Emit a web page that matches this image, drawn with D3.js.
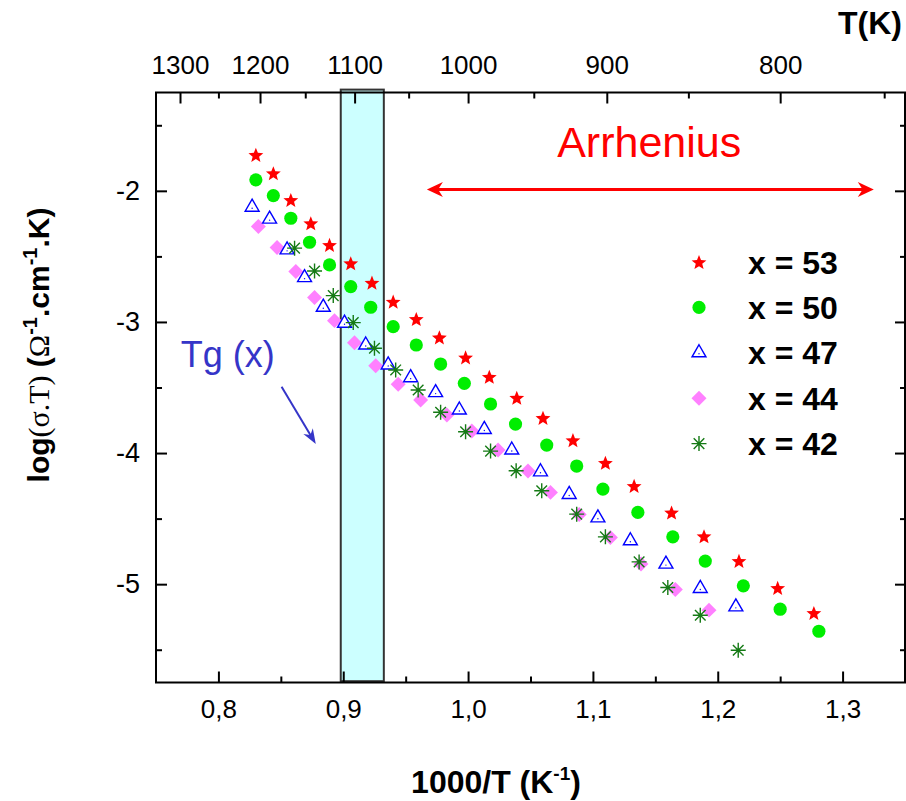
<!DOCTYPE html>
<html><head><meta charset="utf-8">
<script src="https://cdn.jsdelivr.net/npm/d3@7"></script>
<style>body{margin:0;background:#fff} svg{display:block}</style>
</head><body><svg id="c" width="906" height="801"></svg>
<script>
// ---------- data ----------
const xTicksMajor = [0.8, 0.9, 1.0, 1.1, 1.2, 1.3];
const xTicksMinor = [0.85, 0.95, 1.05, 1.15, 1.25];
const yTicksMajor = [-2, -3, -4, -5];
const yTicksMinor = [-1.5, -2.5, -3.5, -4.5, -5.5];
const tTicksMajor = [1300, 1200, 1100, 1000, 900, 800];
const tTicksMinor = [1250, 1150, 1050, 950, 850, 750];

const seriesNames = ["x = 53", "x = 50", "x = 47", "x = 44", "x = 42"];

const x53 = [0.830,0.844,0.858,0.874,0.889,0.906,0.923,0.940,0.9585,0.977,0.998,1.017,1.039,1.060,1.084,1.110,1.133,1.163,1.189,1.217,1.248,1.277];
const y53 = [-1.725,-1.865,-2.069,-2.247,-2.412,-2.552,-2.700,-2.845,-2.977,-3.117,-3.270,-3.418,-3.578,-3.731,-3.901,-4.074,-4.250,-4.453,-4.634,-4.822,-5.028,-5.219];

const x50 = [0.830,0.844,0.858,0.873,0.889,0.906,0.922,0.940,0.9585,0.978,0.997,1.018,1.038,1.063,1.087,1.108,1.136,1.164,1.190,1.2205,1.250,1.281];
const y50 = [-1.916,-2.036,-2.209,-2.392,-2.565,-2.730,-2.888,-3.036,-3.176,-3.321,-3.468,-3.626,-3.779,-3.939,-4.099,-4.275,-4.453,-4.639,-4.824,-5.013,-5.191,-5.359];

const x47 = [0.827,0.841,0.855,0.869,0.884,0.901,0.918,0.936,0.954,0.974,0.993,1.013,1.035,1.058,1.081,1.104,1.130,1.1585,1.186,1.2145];
const y47 = [-2.125,-2.216,-2.450,-2.662,-2.888,-3.010,-3.176,-3.328,-3.425,-3.539,-3.672,-3.820,-3.977,-4.143,-4.316,-4.494,-4.669,-4.847,-5.033,-5.173];

const x44 = [0.832,0.847,0.862,0.877,0.893,0.909,0.926,0.944,0.962,0.983,1.003,1.024,1.048,1.066,1.089,1.114,1.1385,1.166,1.193];
const y44 = [-2.272,-2.433,-2.616,-2.814,-2.990,-3.158,-3.334,-3.475,-3.595,-3.710,-3.832,-3.977,-4.137,-4.300,-4.468,-4.644,-4.847,-5.041,-5.198];

const x42 = [0.861,0.877,0.892,0.908,0.925,0.942,0.960,0.978,0.998,1.018,1.0385,1.059,1.087,1.110,1.137,1.160,1.186,1.2164];
const y42 = [-2.437,-2.611,-2.799,-3.005,-3.201,-3.366,-3.519,-3.689,-3.837,-3.985,-4.135,-4.288,-4.466,-4.639,-4.830,-5.025,-5.237,-5.504];

// annotations (data coordinates)
const tgBandX = [0.898, 0.9325];
const tgBandY = [-1.228, -5.74];
const arrheniusX = [0.967, 1.325];
const arrheniusY = -1.99;
const arrheniusText = [1.2188, -1.74];
const tgText = [0.7698, -3.341];
const tgArrow = [[0.8506, -3.494], [0.878, -3.931]];

// ---------- setup ----------
const FONT = "'Liberation Sans', Arial, Helvetica, sans-serif";
const SERIF = "'Liberation Serif', 'Times New Roman', 'DejaVu Serif', serif";
const svg = d3.select("#c");
const x = d3.scaleLinear().domain([0.75, 1.35]).range([156, 905]);
const y = d3.scaleLinear().domain([-5.75, -1.25]).range([682.5, 92.5]);
const [L, R] = x.range(), [B, T] = y.range();

const series = [
  {name: seriesNames[0], xs: x53, ys: y53, type: "star"},
  {name: seriesNames[1], xs: x50, ys: y50, type: "circle"},
  {name: seriesNames[2], xs: x47, ys: y47, type: "triangle"},
  {name: seriesNames[3], xs: x44, ys: y44, type: "diamond"},
  {name: seriesNames[4], xs: x42, ys: y42, type: "asterisk"}
];

// Tg band
svg.append("rect")
  .attr("x", x(tgBandX[0])).attr("y", y(tgBandY[0]))
  .attr("width", x(tgBandX[1]) - x(tgBandX[0]))
  .attr("height", y(tgBandY[1]) - y(tgBandY[0]))
  .attr("fill", "#ccffff").attr("stroke", "#333").attr("stroke-width", 2);

// ---------- axes ----------
function styleAxis(g, fs) {
  g.select(".domain").remove();
  g.selectAll(".tick line").attr("stroke", "#000").attr("stroke-width", 2);
  g.selectAll(".tick text").attr("font-family", FONT).attr("font-size", fs).attr("fill", "#000");
}
const fmtX = d => d3.format(".1f")(d).replace(".", ",");

svg.append("g").attr("transform", `translate(0,${B})`)
  .call(d3.axisBottom(x).tickValues(xTicksMajor).tickSize(-11).tickPadding(17).tickFormat(fmtX))
  .call(g => styleAxis(g, 26));
svg.append("g").attr("transform", `translate(0,${B})`)
  .call(d3.axisBottom(x).tickValues(xTicksMinor).tickSize(-6).tickFormat(""))
  .call(g => styleAxis(g, 26));

svg.append("g").attr("transform", `translate(0,${T})`)
  .call(d3.axisTop(x).tickValues(tTicksMajor.map(t => 1000 / t)).tickSize(-11).tickPadding(19)
    .tickFormat(v => String(Math.round(1000 / v))))
  .call(g => styleAxis(g, 26));
svg.append("g").attr("transform", `translate(0,${T})`)
  .call(d3.axisTop(x).tickValues(tTicksMinor.map(t => 1000 / t)).tickSize(-6).tickFormat(""))
  .call(g => styleAxis(g, 26));

svg.append("g").attr("transform", `translate(${L},0)`)
  .call(d3.axisLeft(y).tickValues(yTicksMajor).tickSize(-11).tickPadding(16).tickFormat(d => String(d)))
  .call(g => styleAxis(g, 27));
svg.append("g").attr("transform", `translate(${L},0)`)
  .call(d3.axisLeft(y).tickValues(yTicksMinor).tickSize(-6).tickFormat(""))
  .call(g => styleAxis(g, 27));

svg.append("g").attr("transform", `translate(${R},0)`)
  .call(d3.axisRight(y).tickValues(yTicksMajor).tickSize(-10).tickFormat(""))
  .call(g => styleAxis(g, 27));
svg.append("g").attr("transform", `translate(${R},0)`)
  .call(d3.axisRight(y).tickValues(yTicksMinor).tickSize(-5).tickFormat(""))
  .call(g => styleAxis(g, 27));

// frame
svg.append("rect").attr("x", L).attr("y", T).attr("width", R - L).attr("height", B - T)
  .attr("fill", "none").attr("stroke", "#000").attr("stroke-width", 2);

// ---------- markers ----------
function asteriskPath(r) {
  const d = r * Math.SQRT1_2;
  return `M${-r},0L${r},0M0,${-r}L0,${r}M${-d},${-d}L${d},${d}M${-d},${d}L${d},${-d}`;
}
function starPath(ro, ri) {
  const pts = [];
  for (let i = 0; i < 10; i++) {
    const r = i % 2 ? ri : ro;
    const a = -Math.PI / 2 + i * Math.PI / 5;
    pts.push([r * Math.cos(a), r * Math.sin(a)]);
  }
  return "M" + pts.map(p => p[0].toFixed(2) + "," + p[1].toFixed(2)).join("L") + "Z";
}
function drawMarker(g, type, cx, cy) {
  if (type === "star") {
    g.append("path").attr("d", starPath(7.8, 3.4))
      .attr("transform", `translate(${cx},${cy + 0.8})`).attr("fill", "#ff0000");
  } else if (type === "circle") {
    g.append("circle").attr("cx", cx).attr("cy", cy).attr("r", 6.6).attr("fill", "#00ee00");
  } else if (type === "triangle") {
    g.append("path").attr("d", d3.symbol().type(d3.symbolTriangle).size(84)())
      .attr("transform", `translate(${cx},${cy})`).attr("fill", "#fff")
      .attr("stroke", "#0000ff").attr("stroke-width", 1.4);
    g.append("circle").attr("cx", cx).attr("cy", cy + 1).attr("r", 0.7).attr("fill", "#0000ff");
  } else if (type === "diamond") {
    g.append("path").attr("d", d3.symbol().type(d3.symbolSquare).size(112)())
      .attr("transform", `translate(${cx},${cy}) rotate(45)`).attr("fill", "#ff80ff");
  } else if (type === "asterisk") {
    g.append("path").attr("d", asteriskPath(7.5))
      .attr("transform", `translate(${cx},${cy})`).attr("fill", "none")
      .attr("stroke", "#157a15").attr("stroke-width", 1.4);
  }
}

const drawOrder = [3, 2, 4, 1, 0];
drawOrder.forEach(i => {
  const s = series[i];
  const g = svg.append("g").attr("class", "series-" + i);
  s.xs.forEach((xv, k) => drawMarker(g, s.type, x(xv), y(s.ys[k])));
});

// ---------- legend ----------
const leg = svg.append("g");
series.forEach((s, i) => {
  const cy = 262 + i * 45.4;
  drawMarker(leg, s.type, 699, cy);
  leg.append("text").attr("x", 748).attr("y", cy + 11.5)
    .attr("font-family", FONT).attr("font-weight", "bold").attr("font-size", 32)
    .text(s.name);
});

// ---------- arrows ----------
function arrow(x1, y1, x2, y2, color, w, hl, hw, both) {
  const g = svg.append("g");
  const ang = Math.atan2(y2 - y1, x2 - x1);
  const head = (tx, ty, a) => {
    const c = Math.cos(a), s = Math.sin(a);
    const P = (u, v) => [tx + u * c - v * s, ty + u * s + v * c];
    const pts = [P(0, 0), P(-hl, -hw), P(-hl * 0.7, 0), P(-hl, hw)];
    g.append("path").attr("d", "M" + pts.map(p => p.join(",")).join("L") + "Z").attr("fill", color);
  };
  const inset = hl * 0.6;
  const sx = both ? x1 + Math.cos(ang) * inset : x1, sy = both ? y1 + Math.sin(ang) * inset : y1;
  g.append("line").attr("x1", sx).attr("y1", sy)
    .attr("x2", x2 - Math.cos(ang) * inset).attr("y2", y2 - Math.sin(ang) * inset)
    .attr("stroke", color).attr("stroke-width", w);
  head(x2, y2, ang);
  if (both) head(x1, y1, ang + Math.PI);
}
arrow(x(arrheniusX[0]), y(arrheniusY), x(arrheniusX[1]), y(arrheniusY), "#ff0000", 3, 16, 7.5, true);
arrow(x(tgArrow[0][0]), y(tgArrow[0][1]), x(tgArrow[1][0]), y(tgArrow[1][1]), "#3535c8", 2, 15, 5.5, false);

svg.append("text").attr("x", x(arrheniusText[0])).attr("y", y(arrheniusText[1]))
  .attr("text-anchor", "end").attr("font-family", FONT).attr("font-size", 43).attr("fill", "#ff0000")
  .text("Arrhenius");
svg.append("text").attr("x", x(tgText[0])).attr("y", y(tgText[1]))
  .attr("font-family", FONT).attr("font-size", 36).attr("fill", "#3535c8")
  .text("Tg (x)");

// ---------- titles ----------
const xt = svg.append("text").attr("x", 496).attr("y", 793).attr("text-anchor", "middle")
  .attr("font-family", FONT).attr("font-weight", "bold").attr("font-size", 32);
xt.append("tspan").text("1000/T (K");
xt.append("tspan").attr("font-size", 19).attr("dy", -13).text("-1");
xt.append("tspan").attr("dy", 13).text(")");

svg.append("text").attr("x", 902).attr("y", 34).attr("text-anchor", "end")
  .attr("font-family", FONT).attr("font-weight", "bold").attr("font-size", 32).text("T(K)");

const yt = svg.append("text").attr("transform", "translate(49,345) rotate(-90)")
  .attr("text-anchor", "middle").attr("font-family", FONT).attr("font-weight", "bold").attr("font-size", 30);
yt.append("tspan").text("log");
yt.append("tspan").attr("font-family", SERIF).attr("font-weight", "normal").text("(σ.T)");
yt.append("tspan").text(" (");
yt.append("tspan").attr("font-family", SERIF).attr("font-weight", "normal").text("Ω");
yt.append("tspan").attr("font-size", 20).attr("dy", -12).text("-1");
yt.append("tspan").attr("dy", 12).text(".cm");
yt.append("tspan").attr("font-size", 20).attr("dy", -12).text("-1");
yt.append("tspan").attr("dy", 12).text(".K)");
</script>
</body></html>
